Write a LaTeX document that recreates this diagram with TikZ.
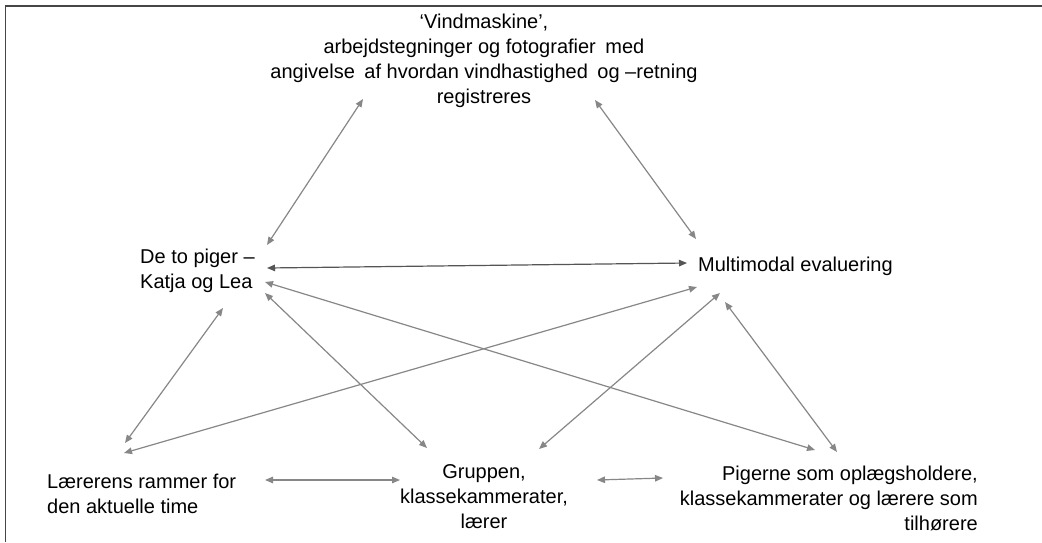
\documentclass[tikz,border=0pt]{standalone}
\usepackage{fontspec}
\setmainfont{Liberation Sans}
\usetikzlibrary{arrows.meta}

\definecolor{framegray}{RGB}{70,70,70}
\definecolor{linkgray}{RGB}{135,135,135}
\definecolor{darklink}{RGB}{85,85,85}

\tikzset{
  label text/.style={inner sep=0pt, font=\fontsize{20}{25}\selectfont, text=black},
  link/.style={draw=linkgray, line width=1.2pt,
    {Triangle[length=8pt,width=6.5pt]}-{Triangle[length=8pt,width=6.5pt]}},
  strong link/.style={link, draw=darklink},
}
\newcommand{\widegap}{\hspace{4pt} }

\begin{document}
\begin{tikzpicture}[x=1pt, y=-1pt]
  \useasboundingbox (0,0) rectangle (1042,542);
  \fill[white] (0,0) rectangle (1042,542);

  % frame edges along the top and the left
  \draw[framegray, line width=1.6pt] (5.5,542) -- (5.5,6) -- (1042,6);

  % concepts
  \node[label text, align=center] (machine) at (484,61)
    {‘Vindmaskine’,\\arbejdstegninger og fotografier\widegap med\\angivelse\widegap af hvordan vindhastighed\widegap og –retning\\registreres};
  \node[label text, align=left, anchor=west] (girls) at (140,271)
    {De to piger –\\Katja og Lea};
  \node[label text, anchor=west] (eval) at (698,266) {Multimodal evaluering};
  \node[label text, align=left, anchor=west] (frame) at (47,494)
    {Lærerens rammer for\\den aktuelle time};
  \node[label text, align=center] (group) at (484,497)
    {Gruppen,\\klassekammerater,\\lærer};
  \node[label text, align=right, anchor=east] (audience) at (978,498)
    {Pigerne som oplægsholdere,\\klassekammerater og lærere som\\tilhørere};

  % arrow ends around each concept
  \coordinate (machine-sw) at (363,99);
  \coordinate (machine-se) at (595,100);
  \coordinate (girls-ne)   at (267,245);
  \coordinate (girls-e)    at (267,268);
  \coordinate (girls-ese)  at (265,282);
  \coordinate (girls-se)   at (265,293);
  \coordinate (girls-s)    at (223,308);
  \coordinate (eval-nw)    at (696,239);
  \coordinate (eval-w)     at (687,263);
  \coordinate (eval-sw)    at (697,287);
  \coordinate (eval-s)     at (720,293);
  \coordinate (eval-se)    at (725,302);
  \coordinate (frame-n)    at (125,443);
  \coordinate (frame-ne)   at (124,453);
  \coordinate (frame-e)    at (265,480);
  \coordinate (group-nw)   at (427,448);
  \coordinate (group-ne)   at (539,449);
  \coordinate (group-w)    at (400,480);
  \coordinate (group-e)    at (597,480);
  \coordinate (aud-nw)     at (815,450);
  \coordinate (aud-n)      at (837,452);
  \coordinate (aud-w)      at (663,478);

  % relations
  \draw[link] (machine-sw) -- (girls-ne);
  \draw[link] (machine-se) -- (eval-nw);
  \draw[strong link] (girls-e) -- (eval-w);
  \draw[link] (girls-s) -- (frame-n);
  \draw[link] (eval-sw) -- (frame-ne);
  \draw[link] (girls-se) -- (group-nw);
  \draw[link] (eval-s) -- (group-ne);
  \draw[link] (girls-ese) -- (aud-nw);
  \draw[link] (eval-se) -- (aud-n);
  \draw[link] (frame-e) -- (group-w);
  \draw[link] (group-e) -- (aud-w);
\end{tikzpicture}
\end{document}
